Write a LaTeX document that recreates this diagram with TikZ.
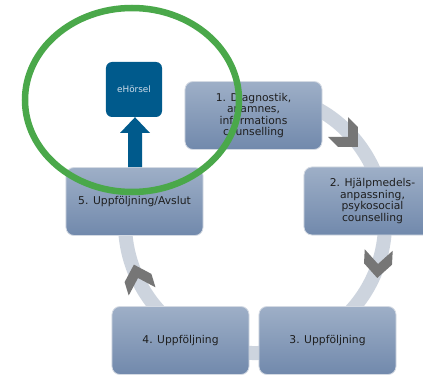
\documentclass[tikz,border=0pt]{standalone}
\usepackage{fontspec}
\setmainfont{DejaVu Sans}
\usetikzlibrary{calc}
\definecolor{boxtop}{HTML}{9EAFC7}
\definecolor{boxbot}{HTML}{7189AC}
\definecolor{boxline}{HTML}{D4DAE3}
\definecolor{ringc}{HTML}{CDD4DE}
\definecolor{chevc}{HTML}{767676}
\definecolor{textc}{HTML}{1E1E1E}
\definecolor{ehblue}{HTML}{005A8C}
\definecolor{ehtext}{HTML}{D0DDEA}
\definecolor{markgreen}{HTML}{4AA84A}
\begin{document}
\begin{tikzpicture}[x=1bp,y=1bp,
  stepbox/.style={rounded corners=8bp, draw=boxline, line width=0.8bp,
    top color=boxtop, bottom color=boxbot, minimum width=137bp,
    minimum height=68bp, align=center, text=textc, inner sep=0pt,
    font=\fontsize{10.8}{11.5}\selectfont},
  ehbox/.style={rounded corners=6bp, fill=ehblue, minimum width=56bp,
    minimum height=55bp, text=ehtext, inner sep=0pt,
    font=\fontsize{8.9}{10}\selectfont},
  ring/.style={draw=ringc, line width=14bp},
  chev/.pic={\fill[chevc] (14,0)--(0,14)--(-14,14)--(0,0)--(-14,-14)--(0,-14)--cycle;},
  greenmark/.style={draw=markgreen, line width=6.5bp}
]
\useasboundingbox (0,0) rectangle (423,378);
\fill[white] (0,0) rectangle (423,378);
\clip (0,0) rectangle (423,378);

% cycle ring
\coordinate (rc) at (255,155);
\draw[ring] ($(rc)+(160:130)$) arc[start angle=160, end angle=480, radius=130];

% chevrons
\pic[rotate=-45] at (348,241) {chev};
\pic[rotate=-93] at (378,114) {chev};
\pic[rotate=107] at (138,100) {chev};

% boxes
\node[stepbox] (b1) at (253.5,262.5) {1. Diagnostik,\\anamnes,\\informations\\counselling};
\node[stepbox] (b2) at (372.5,177) {2. Hjälpmedels-\\anpassning,\\psykosocial\\counselling};
\node[stepbox] (b3) at (327.5,37.5) {3. Uppföljning};
\node[stepbox] (b4) at (180.5,37.5) {4. Uppföljning};
\node[stepbox] (b5) at (134.5,176.5) {5. Uppföljning/Avslut};

% eHörsel
\node[ehbox] (eh) at (134,288.5) {eHörsel};
\coordinate (as) at ($(b5.north)+(0.5,0)$);
\coordinate (ae) at ($(eh.south)+(1,0)$);
\fill[ehblue] ($(as)+(-7,0)$) -- ($(ae |- 0,245)+(-7,0)$) -- ($(ae |- 0,245)+(-15,0)$)
  -- (ae) -- ($(ae |- 0,245)+(15,0)$) -- ($(ae |- 0,245)+(7,0)$) -- ($(as)+(7,0)$) -- cycle;

% green mark
\draw[greenmark] (132,278) ellipse [x radius=107, y radius=92];
\end{tikzpicture}
\end{document}
